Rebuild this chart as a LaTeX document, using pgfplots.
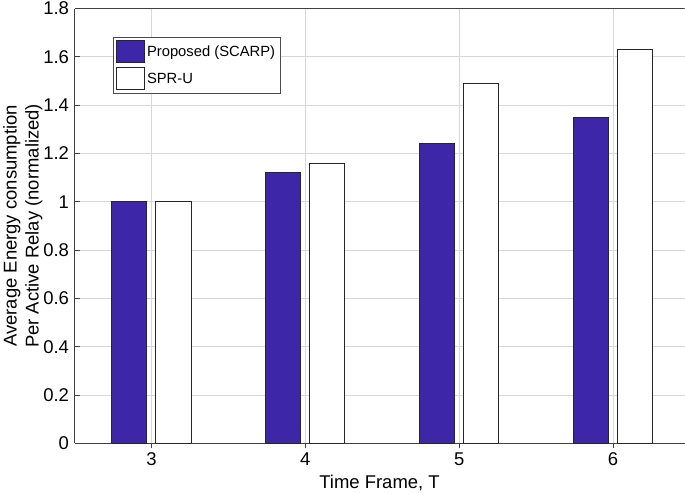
\documentclass[border=0pt]{standalone}
\usepackage{fontspec}
\setmainfont{Liberation Sans}
\usepackage{pgfplots}
\pgfplotsset{compat=1.18}
\definecolor{barpurple}{RGB}{62,38,168}
\definecolor{gridgray}{RGB}{215,215,215}
\pgfplotsset{
    barleg/.style={legend image code/.code={\draw[##1] (0bp,-11bp) rectangle (28bp,11bp);}},
}
\begin{document}
\begin{tikzpicture}
\begin{axis}[
    scale only axis,
    width=609bp, height=434bp,
    xmin=2.5, xmax=6.465, ymin=0, ymax=1.8,
    axis x line*=bottom, axis y line*=left,
    axis line style={-, draw=black!75, line width=0.9bp},
    tick align=inside, tick style={black!75, line width=0.7bp},
    major tick length=5bp,
    xtick={3,4,5,6},
    ytick={0,0.2,...,1.8},
    grid=major, major grid style={gridgray, line width=0.9bp},
    /pgf/number format/assume math mode=true,
    tick label style={font=\fontsize{18.5}{22}\selectfont},
    yticklabel style={xshift=-2bp, inner ysep=2bp},
    xticklabel style={yshift=-1bp},
    label style={font=\fontsize{18.5}{22}\selectfont},
    xlabel={Time Frame, T},
    xlabel style={yshift=-2bp},
    ylabel={Average Energy consumption\\Per Active Relay (normalized)},
    ylabel style={align=center, yshift=-6bp},
    ybar=9bp, bar width=35bp,
    legend style={at={(axis description cs:0.0624,0.935)}, anchor=north west,
        font=\fontsize{14.8}{17}\selectfont, draw=black!70, line width=0.8bp,
        inner xsep=3bp, inner ysep=3bp, row sep=4bp, cells={anchor=west}},
]
\addplot[fill=barpurple, draw=black!85, line width=1bp, barleg]
    coordinates {(3,1.00) (4,1.12) (5,1.24) (6,1.35)};
\addlegendentry{Proposed (SCARP)}
\addplot[fill=white, draw=black!85, line width=1bp, barleg]
    coordinates {(3,1.00) (4,1.16) (5,1.49) (6,1.63)};
\addlegendentry{SPR-U}
\draw[black!75, line width=0.9bp] (rel axis cs:0,1) -- (rel axis cs:1,1);
\end{axis}
\end{tikzpicture}
\end{document}
